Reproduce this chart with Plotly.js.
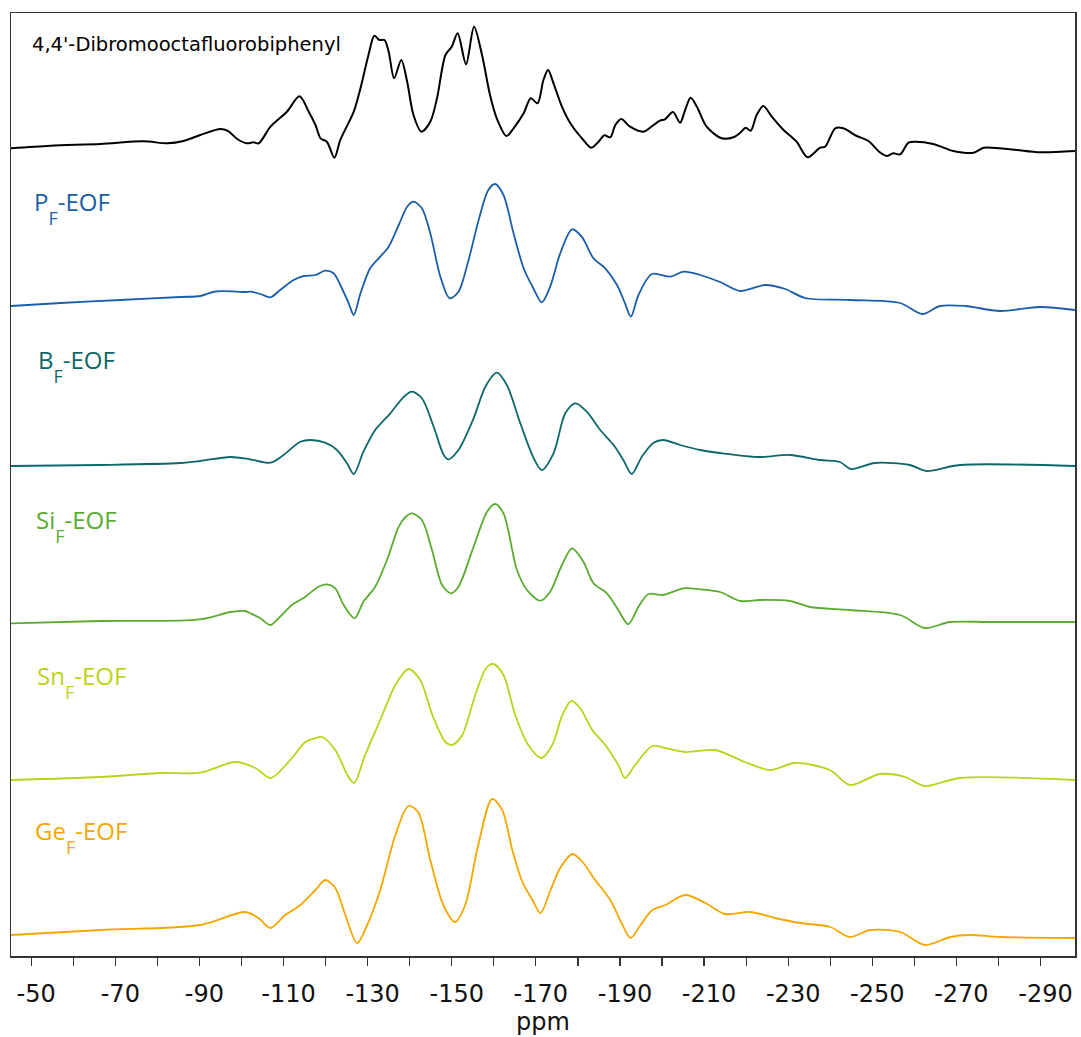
<!DOCTYPE html>
<html>
<head>
<meta charset="utf-8">
<script src="https://cdn.plot.ly/plotly-3.0.1.min.js"></script>
<style>
  html, body { margin: 0; padding: 0; background: #fff; }
  #chart { width: 1081px; height: 1037px; }
</style>
</head>
<body>
<div id="chart"></div>
<script>
// 19F solid-state NMR spectra, chemical shift in ppm, intensity in arbitrary units

const dbofbPpm = [-45.2, -54.6, -66.5, -76.7, -82.4, -86.2, -90.2, -95.0, -96.8, -99.0, -101.3, -102.9, -104.1,
  -106.9, -110.8, -113.8, -116.0, -117.6, -118.8, -120.3, -122.1, -123.5, -126.7, -128.3, -130.2, -131.6,
  -132.8, -134.0, -135.0, -136.3, -138.0, -139.4, -140.9, -142.8, -144.9, -146.5, -148.5, -150.0, -151.4,
  -153.4, -155.3, -157.2, -159.1, -160.7, -163.0, -164.7, -167.1, -168.8, -170.4, -171.8, -172.9, -174.2,
  -176.2, -178.2, -181.3, -183.2, -184.9, -186.3, -187.7, -188.9, -190.3, -192.4, -195.6, -198.0, -199.5,
  -200.7, -202.6, -204.3, -205.5, -206.8, -208.3, -210.6, -214.2, -217.0, -218.6, -219.9, -221.1, -222.5,
  -224.1, -226.1, -228.9, -232.0, -234.6, -237.6, -238.8, -241.2, -243.1, -246.3, -249.1, -251.8, -253.4,
  -255.0, -256.6, -258.6, -260.2, -264.5, -269.3, -274.1, -276.5, -280.4, -284.4, -289.9, -298.2];
const dbofbInt = [3.7, 6.3, 8, 10.7, 8.7, 11, 17, 23, 21, 13, 8.7, 9.7, 8.7,
  25.3, 40.3, 55.7, 40.3, 27, 13.7, 10.3, -5.7, 12, 40.3, 63.7, 97, 116.3,
  112, 112, 100.3, 73.7, 92, 70.3, 37, 20.3, 30.3, 53.7, 97, 105.3, 118.7,
  87.7, 125.3, 97, 57, 33.7, 16, 23.7, 38.7, 53.7, 48.7, 72, 82, 68.7,
  45.3, 28.7, 12, 4.3, 10.3, 16.7, 14.7, 27, 33, 25.3, 20.3, 27, 31.3,
  32.7, 40, 29.3, 42, 54.3, 45.3, 25.3, 13.7, 14.7, 19.3, 24.3, 21.3, 37,
  46, 35.3, 22, 10.3, -5.3, 4.3, 5.3, 23.7, 23.7, 16, 11, -0.3, -4,
  -1.3, -2.3, 9.3, 10.3, 8, 1, -0.7, 4.3, 3.7, 2, -0.3, 1];

const pfPpm = [-45.2, -57.0, -71.2, -85.5, -90.2, -93.8, -100.9, -102.1, -104.5, -106.9, -109.2, -112.4, -114.8,
  -117.6, -119.9, -121.9, -123.5, -125.5, -126.7, -128.3, -130.6, -133.0, -135.0, -137.4, -139.4, -140.9,
  -142.9, -144.9, -147.3, -149.5, -151.6, -154.0, -156.4, -158.7, -160.3, -162.3, -164.7, -167.1, -169.4,
  -171.4, -173.4, -175.8, -178.6, -180.9, -183.7, -186.5, -189.3, -191.2, -192.6, -194.4, -197.6, -201.9,
  -205.1, -209.1, -213.8, -218.6, -224.5, -229.3, -234.0, -244.7, -256.6, -261.9, -266.1, -272.1, -280.4,
  -289.9, -298.2];
const pfInt = [4, 7, 10, 13, 14, 18.5, 18, 18.3, 16, 12.7, 20, 30, 34,
  35, 39.3, 36.7, 25, 6.7, -5, 16.7, 41.7, 53.3, 63.3, 85, 103.3, 108.3,
  101.7, 76.7, 33.3, 11.7, 18.3, 50, 90, 120, 126, 115, 76.7, 41.7, 21.7,
  7.7, 23.3, 56.7, 80.7, 73.3, 51.7, 41.7, 25, 6.7, -6.7, 15, 36, 33.3,
  38.3, 35, 28, 19, 25, 21, 12, 10, 7, -4, 4, 4, -1,
  3, 0];

const bfPpm = [-45.2, -66.5, -85.5, -90.2, -97.4, -102.1, -106.9, -110.0, -114.0, -116.4, -119.9, -122.7, -125.1,
  -126.7, -129.0, -131.8, -135.4, -138.5, -140.5, -142.9, -145.7, -148.1, -149.2, -151.6, -155.2, -158.0,
  -160.7, -163.1, -166.3, -169.5, -171.4, -174.2, -177.0, -179.4, -182.1, -185.3, -188.5, -190.8, -192.8,
  -195.2, -198.0, -200.3, -204.3, -209.1, -213.8, -223.3, -230.4, -237.6, -242.3, -244.9, -250.6, -258.9,
  -262.9, -270.8, -298.2];
const bfInt = [1, 2, 4, 6, 10, 7.7, 4.3, 12, 25.3, 27, 24.3, 17, 3.7,
  -7, 15.3, 37, 53.7, 69.7, 75.3, 68.7, 40.3, 12, 7.7, 17, 48.7, 80.3,
  94.3, 82, 43.7, 8.7, -3, 13.7, 53.7, 63.7, 55.3, 37, 22, 7, -7,
  10.3, 24.3, 27, 22, 17, 14, 10, 12, 7, 5, -2, 4, 2,
  -4, 2, 1];

const sifPpm = [-45.2, -66.5, -90.2, -97.4, -100.9, -102.1, -104.5, -106.9, -109.2, -112.0, -115.2, -118.3, -120.3,
  -122.3, -124.3, -126.9, -129.0, -131.8, -134.6, -137.4, -139.0, -140.5, -142.9, -145.3, -147.7, -149.8, -151.6,
  -155.2, -158.4, -160.3, -162.3, -165.5, -167.9, -171.1, -173.4, -176.2, -178.6, -181.3, -183.7, -186.9,
  -189.6, -192.0, -194.4, -196.8, -200.3, -205.1, -209.1, -213.8, -218.6, -223.3, -230.4, -235.2, -244.7,
  -256.6, -262.5, -268.5, -278.0, -298.2];
const sifInt = [0.7, 3, 4.7, 12, 13, 10.7, 5.7, -1, 7.3, 19, 27.3, 37.3, 39.7,
  35.7, 19, 5.7, 22.3, 37.3, 64, 97.3, 107, 110.7, 104, 74, 39, 30.7, 37.3,
  77.3, 112.3, 120, 110.7, 54, 34, 23.3, 32.3, 59, 75.7, 62.3, 40.7, 30.7,
  14, -0.3, 17.3, 30, 29, 35.7, 34.7, 32, 23, 24, 23, 17, 14,
  9, -4, 2, 2, 2];

const snfPpm = [-45.2, -66.5, -80.7, -90.2, -98.5, -103.3, -106.9, -111.6, -115.2, -117.6, -119.2, -122.3, -125.2,
  -126.8, -129.4, -133.0, -136.6, -139.7, -142.5, -145.4, -148.5, -150.1, -152.5, -155.6, -158.2, -159.9,
  -162.3, -165.1, -168.2, -171.3, -173.9, -176.3, -178.4, -180.5, -183.4, -186.5, -189.6, -191.2, -193.6,
  -197.7, -200.7, -205.5, -212.6, -219.7, -225.7, -231.6, -239.9, -244.7, -251.8, -257.8, -262.5, -270.8,
  -298.2];
const snfInt = [1, 4, 8, 8.3, 19, 13, 3, 21, 39, 43, 44, 31, 6,
  -2, 26, 61, 96, 112, 101, 66, 39, 36, 46, 86, 113, 117,
  106, 66, 36, 23, 36, 66, 80, 73, 51, 36, 16, 3, 16,
  35, 33, 29, 31, 19, 11, 18, 11, -4, 7, 4, -5, 3,
  1];

const gefPpm = [-45.2, -66.5, -90.2, -100.9, -104.0, -106.9, -110.4, -114.0, -117.6, -119.9, -122.3, -124.7, -127.5,
  -129.9, -133.0, -136.6, -139.7, -142.0, -144.9, -148.0, -150.8, -153.2, -156.3, -159.6, -162.0, -164.4,
  -166.8, -169.2, -171.1, -173.5, -175.8, -178.7, -181.1, -184.1, -187.7, -190.6, -192.5, -194.9, -197.7,
  -200.8, -205.5, -210.3, -215.0, -220.9, -226.9, -232.8, -240.0, -244.7, -249.5, -256.6, -262.5, -268.5,
  -273.2, -280.4, -298.2];
const gefInt = [3, 8, 13, 26, 20, 10, 23, 33, 48, 58, 50, 23, -5,
  13, 48, 103, 132, 126, 78, 33, 16, 33, 93, 139, 128, 88,
  56, 38, 25, 48, 70, 84, 76, 58, 38, 13, 0, 13, 28,
  33, 43, 35, 24, 26, 20, 15, 11, 1, 8, 6, -7, 1,
  3, 1, 0];

// x axis ticks every 10 ppm, labelled every 20 ppm
const tickValues = [-50, -60, -70, -80, -90, -100, -110, -120, -130, -140, -150, -160, -170,
  -180, -190, -200, -210, -220, -230, -240, -250, -260, -270, -280, -290];
const tickLabels = ['-50', '', '-70', '', '-90', '', '-110', '', '-130', '', '-150', '', '-170',
  '', '-190', '', '-210', '', '-230', '', '-250', '', '-270', '', '-290'];

const sampleNames = ["4,4'-Dibromooctafluorobiphenyl", 'P<sub>F</sub>-EOF', 'B<sub>F</sub>-EOF',
  'Si<sub>F</sub>-EOF', 'Sn<sub>F</sub>-EOF', 'Ge<sub>F</sub>-EOF'];

// the subscript F sits well below the baseline, so it gets its own shifted span
const subStyle = 'font-size:18px;baseline-shift:-14px';
const labelText = sampleNames.map(n =>
  n.replace('<sub>F</sub>', '<span style="' + subStyle + '">F</span>'));

// stacking: each spectrum is lifted by its own vertical offset
const series = [
  {x: dbofbPpm, y: dbofbInt, color: '#000000', offset: 804, width: 2},
  {x: pfPpm, y: pfInt, color: '#1a5ea8', offset: 646, width: 1.8},
  {x: bfPpm, y: bfInt, color: '#0e6768', offset: 489, width: 1.8},
  {x: sifPpm, y: sifInt, color: '#5aac30', offset: 332, width: 1.8},
  {x: snfPpm, y: snfInt, color: '#bdd21a', offset: 175, width: 1.8},
  {x: gefPpm, y: gefInt, color: '#f4a700', offset: 18, width: 1.8}
];

const traces = series.map((s, i) => ({
  type: 'scatter',
  mode: 'lines',
  x: s.x,
  y: s.y.map(v => v + s.offset),
  line: {color: s.color, width: s.width, shape: 'spline', smoothing: 0.85},
  name: sampleNames[i],
  hoverinfo: 'x',
  showlegend: false
}));

const labelY = [0.967, 0.794, 0.626, 0.457, 0.291, 0.127];
const labelX = [0.0175, 0.0195, 0.0235, 0.022, 0.0225, 0.0205];
const annotations = series.map((s, i) => ({
  xref: 'paper', yref: 'paper',
  x: labelX[i], y: labelY[i],
  xanchor: 'left', yanchor: 'middle',
  text: labelText[i],
  showarrow: false,
  font: i === 0
    ? {family: 'DejaVu Sans, Verdana, sans-serif', size: 19.5, color: s.color}
    : {family: 'Open Sans, sans-serif', size: 24, color: s.color}
}));

const layout = {
  width: 1081,
  height: 1037,
  margin: {l: 11, r: 6, t: 13, b: 81},
  paper_bgcolor: '#ffffff',
  plot_bgcolor: '#ffffff',
  font: {family: 'DejaVu Sans, Verdana, sans-serif', color: '#111111'},
  xaxis: {
    range: [-45.2, -298.2],
    tickmode: 'array',
    tickvals: tickValues,
    ticktext: tickLabels,
    ticks: 'outside',
    ticklen: 8,
    tickwidth: 1.2,
    tickcolor: '#333333',
    tickfont: {size: 24, color: '#111111'},
    ticklabelshift: -5,
    ticklabelstandoff: 8,
    showgrid: false,
    zeroline: false,
    showline: true,
    mirror: true,
    linecolor: '#333333',
    linewidth: 1.5,
    title: {text: 'ppm', font: {size: 24, color: '#111111'}, standoff: 4}
  },
  yaxis: {
    range: [0, 943],
    showticklabels: false,
    ticks: '',
    showgrid: false,
    zeroline: false,
    showline: true,
    mirror: true,
    linecolor: '#333333',
    linewidth: 1.5
  },
  annotations: annotations
};

Plotly.newPlot('chart', traces, layout, {displayModeBar: false, staticPlot: true});
</script>
</body>
</html>
